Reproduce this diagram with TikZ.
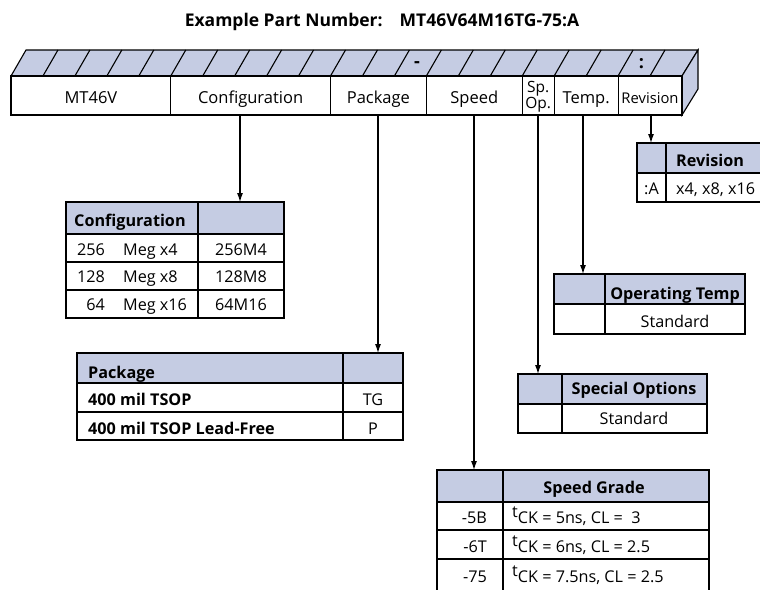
\documentclass[tikz,border=0pt]{standalone}
\usepackage{fontspec}
\setmainfont{Open Sans}
\usetikzlibrary{arrows.meta}
\definecolor{hdrblue}{RGB}{197,204,227}
\tikzset{
  hfill/.style={fill=hdrblue, draw=black, line width=1.1pt},
  wfill/.style={fill=white, draw=black, line width=1.1pt},
  ln/.style={draw=black, line width=1.1pt},
  tx/.style={inner sep=0pt, font=\fontsize{16.2}{18}\selectfont},
  bx/.style={inner sep=0pt, font=\bfseries\fontsize{16.2}{18}\selectfont},
  barlbl/.style={inner sep=0pt, font=\fontsize{16.5}{18}\selectfont},
  arr/.style={-{Latex[length=9pt,width=6pt]}, line width=1.1pt}
}
\begin{document}
\begin{tikzpicture}[x=1pt,y=-1pt]
\clip (0,0) rectangle (760,589);
\fill[white] (0,0) rectangle (760,589);
% title
\node[bx, anchor=base, font=\bfseries\fontsize{17.5}{18}\selectfont] (title) at (382,26) {Example Part Number:\hspace{17pt}MT46V64M16TG-75:A};
% bar top and side
\path[hfill] (11,76) -- (26,50) -- (698,50) -- (682,76) -- cycle;
\path[hfill] (682,76) -- (698,50) -- (698,89) -- (682,115) -- cycle;
\foreach \k in {1,...,20}{
  \draw[line width=1.1pt] ({11+31.95*\k},76) -- ({26+31.95*\k},50);
}
\path[wfill] (11,76) rectangle (682,115);
\foreach \k in {5,10,13,16,17,19}{
  \draw[line width=1.1pt] ({11+31.95*\k},76) -- ({11+31.95*\k},115);
}
\node[bx, font=\bfseries\fontsize{18}{18}\selectfont] (dash) at (417,65) {-};
\node[bx, font=\bfseries\fontsize{18}{18}\selectfont] (colon) at (641.5,64) {:};
\node[barlbl, anchor=base] (c1) at (90.9,103) {MT46V};
\node[barlbl, anchor=base] (c2) at (250.6,103) {Configuration};
\node[barlbl, anchor=base] (c3) at (378.4,103) {Package};
\node[barlbl, anchor=base] (c4) at (474.3,103) {Speed};
\node[inner sep=0pt, font=\fontsize{15.5}{13}\selectfont, align=center] (c5) at (538.2,96.5) {Sp.\\Op.};
\node[barlbl, anchor=base] (c6) at (586.1,103) {Temp.};
\node[inner sep=0pt, anchor=base, font=\fontsize{14.8}{16}\selectfont] (c7) at (650,103) {Revision};
% arrow start points
\coordinate (s2) at (240,115);
\coordinate (s3) at (378,115);
\coordinate (s4) at (474,115);
\coordinate (s5) at (538,115);
\coordinate (s6) at (583,115);
\coordinate (s7) at (651,115);
% Configuration table
\path[hfill] (66,202) rectangle (198,234);
\path[hfill] (198,202) rectangle (284,234);
\path[ln] (66,234) rectangle (198,262) (198,234) rectangle (284,262);
\path[ln] (66,262) rectangle (198,290) (198,262) rectangle (284,290);
\path[ln] (66,290) rectangle (198,318) (198,290) rectangle (284,318);
\coordinate (t2) at (240,202);
\node[bx, anchor=base west] (cfgh) at (74,226) {Configuration};
\node[tx, anchor=base east] (cfa1) at (105,255) {256};
\node[tx, anchor=base west] (cfb1) at (123,255) {Meg x4};
\node[tx, anchor=base] (cfc1) at (241,255) {256M4};
\node[tx, anchor=base east] (cfa2) at (105,282) {128};
\node[tx, anchor=base west] (cfb2) at (123,282) {Meg x8};
\node[tx, anchor=base] (cfc2) at (241,282) {128M8};
\node[tx, anchor=base east] (cfa3) at (105,310) {64};
\node[tx, anchor=base west] (cfb3) at (123,310) {Meg x16};
\node[tx, anchor=base] (cfc3) at (241,310) {64M16};
% Package table
\path[hfill] (77,353) rectangle (343,383);
\path[hfill] (343,353) rectangle (403,383);
\path[ln] (77,383) rectangle (343,412) (343,383) rectangle (403,412);
\path[ln] (77,412) rectangle (343,440) (343,412) rectangle (403,440);
\coordinate (t3) at (378,353);
\node[bx, anchor=base west] (pkh) at (88,378) {Package};
\node[bx, anchor=base west] (pk1) at (88,405) {400 mil TSOP};
\node[tx, anchor=base] (pk1c) at (373,405) {TG};
\node[bx, anchor=base west] (pk2) at (88,434) {400 mil TSOP Lead-Free};
\node[tx, anchor=base] (pk2c) at (373,434) {P};
% Speed table
\path[hfill] (437,470) rectangle (503,502);
\path[hfill] (503,470) rectangle (709,502);
\path[ln] (437,502) rectangle (503,530) (503,502) rectangle (709,530);
\path[ln] (437,530) rectangle (503,559) (503,530) rectangle (709,559);
\path[ln] (437,559) rectangle (503,600) (503,559) rectangle (709,600);
\coordinate (t4) at (474,470);
\node[bx, anchor=base] (sph) at (594,493) {Speed Grade};
\node[tx, anchor=base east] (sp1) at (487,523) {-5B};
\node[tx, anchor=base west] (sp1c) at (512,523) {\raisebox{6pt}{t}CK = 5ns, CL =\ \ 3};
\node[tx, anchor=base east] (sp2) at (487,552) {-6T};
\node[tx, anchor=base west] (sp2c) at (512,552) {\raisebox{6pt}{t}CK = 6ns, CL = 2.5};
\node[tx, anchor=base east] (sp3) at (487,582) {-75};
\node[tx, anchor=base west] (sp3c) at (512,582) {\raisebox{6pt}{t}CK = 7.5ns, CL = 2.5};
% Special options table
\path[hfill] (518,374) rectangle (562,404);
\path[hfill] (562,374) rectangle (707,404);
\path[ln] (518,404) rectangle (562,433) (562,404) rectangle (707,433);
\coordinate (t5) at (538,374);
\node[bx, anchor=base] (soh) at (634,394) {Special Options};
\node[tx, anchor=base] (so1) at (634,424) {Standard};
% Operating temp table
\path[hfill] (554,274) rectangle (605,304);
\path[hfill] (605,274) rectangle (745,304);
\path[ln] (554,304) rectangle (605,334) (605,304) rectangle (745,334);
\coordinate (t6) at (583,274);
\node[bx, anchor=base] (oth) at (675,299) {Operating Temp};
\node[tx, anchor=base] (ot1) at (675,327) {Standard};
% Revision table
\path[hfill] (637,143) rectangle (666,173);
\path[hfill] (666,143) rectangle (770,173);
\path[ln] (637,173) rectangle (666,202) (666,173) rectangle (770,202);
\coordinate (t7) at (651,143);
\node[bx, anchor=base west] (rvh) at (676,166) {Revision};
\node[tx, anchor=base] (rv1) at (651.5,194) {:A};
\node[tx, anchor=base west] (rv1c) at (676,194) {x4, x8, x16};
% arrows
\draw[arr] (s2) -- (t2);
\draw[arr] (s3) -- (t3);
\draw[arr] (s4) -- (t4);
\draw[arr] (s5) -- (t5);
\draw[arr] (s6) -- (t6);
\draw[arr] (s7) -- (t7);
\end{tikzpicture}
\end{document}
